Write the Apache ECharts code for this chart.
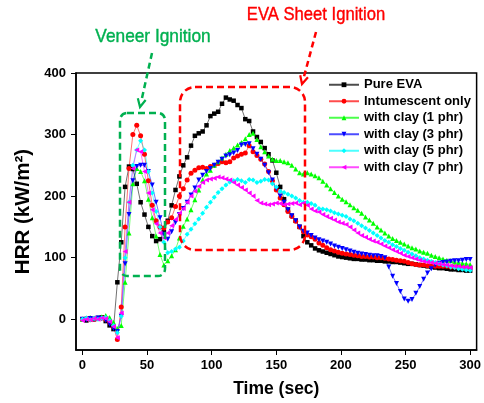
<!DOCTYPE html>
<html><head><meta charset="utf-8">
<script src="https://cdn.jsdelivr.net/npm/echarts@6/dist/echarts.min.js"></script>
<style>html,body{margin:0;padding:0;background:#fff}#c{width:484px;height:403px}</style>
</head><body><div id="c"></div>
<script>
// time grid (sec)
const timeSec = [0,3,6,9,12,15,18,21,24,27,30,33,36,39,42,45,48,51,54,57,60,63,66,69,72,75,78,81,84,87,90,93,96,99,102,105,108,111,114,117,120,123,126,129,132,135,138,141,144,147,150,153,156,159,162,165,168,171,174,177,180,183,186,189,192,195,198,201,204,207,210,213,216,219,222,225,228,231,234,237,240,243,246,249,252,255,258,261,264,267,270,273,276,279,282,285,288,291,294,297,300];

const seriesNames = ["Pure EVA","Intumescent only","with clay (1 phr)","with clay (3 phr)","with clay (5 phr)","with clay (7 phr)"];

const pureEVA = [0,-2,1,0,2,3,-3,-10,-16,60,125,215,248,244,220,190,170,150,135,127,130,142,160,185,210,232,250,263,282,298,302,305,315,330,334,337,350,360,357,355,348,343,325,322,305,296,288,278,268,258,238,215,195,178,168,160,150,135,125,120,115,112,110,108,106,104,102,101,100,99,98,98,97,97,96,96,95,95,94,94,93,93,92,91,90,90,89,88,87,86,85,84,83,83,82,81,81,80,80,79,79];

const intumescent = [0,1,-1,0,1,2,0,-5,-12,-33,20,150,245,300,315,298,268,225,185,160,150,148,158,165,183,200,212,226,237,242,246,247,245,248,250,253,256,254,256,262,265,268,270,282,272,266,260,252,240,225,210,197,186,175,167,159,150,142,137,134,130,124,120,116,113,111,109,107,106,105,104,103,102,102,101,101,100,100,99,98,97,96,95,94,92,90,89,88,88,87,87,86,86,86,86,85,85,85,85,84,84];

const clay1 = [0,2,3,2,3,4,6,3,-5,-15,-10,60,140,220,245,240,225,195,165,135,105,88,95,103,113,132,151,163,178,194,210,226,236,242,250,256,262,268,274,278,283,287,293,300,302,292,280,272,265,260,258,258,256,254,250,244,238,236,238,236,233,230,224,218,212,206,200,195,191,186,181,177,172,166,161,156,150,145,140,135,131,128,125,122,119,116,114,111,109,107,104,102,100,98,96,95,93,92,91,90,89];

const clay3 = [0,-1,1,0,2,1,-2,-8,-15,-20,5,90,170,225,248,250,250,240,218,190,165,138,130,142,157,170,180,190,202,213,226,234,240,245,250,255,260,265,267,270,274,283,284,285,277,268,260,250,238,226,212,200,190,178,168,160,150,143,140,136,132,129,127,125,122,119,117,115,113,111,109,107,106,105,104,103,103,102,100,85,70,58,45,33,29,32,42,53,65,75,82,88,91,92,93,94,95,95,96,97,97];

const clay5 = [0,2,-1,1,0,2,3,-2,-10,-22,5,100,190,250,275,290,275,240,205,175,150,125,108,110,114,117,127,138,146,155,163,172,182,190,198,206,212,218,223,225,227,225,222,227,226,222,224,227,226,220,215,208,206,203,200,197,193,190,190,188,185,180,179,178,176,173,171,169,167,163,160,156,152,148,144,140,136,132,128,125,121,118,115,112,109,106,103,100,98,96,94,92,90,88,87,85,84,82,81,80,79];

const clay7 = [-2,0,-1,1,0,2,1,-4,-12,-30,10,110,190,245,275,272,240,205,178,155,140,132,140,152,162,172,180,190,200,208,216,222,226,228,229,231,230,228,226,222,218,214,210,205,200,193,189,187,186,187,189,188,186,187,188,189,186,189,185,179,176,174,170,167,164,161,158,156,154,150,145,140,136,133,130,127,125,122,119,116,113,110,107,104,102,100,98,96,94,93,92,91,90,89,88,87,86,86,85,85,84];

const xTicks = [0,50,100,150,200,250,300];
const yTicks = [0,100,200,300,400];

const colors = ['#000000','#ff0000','#00ff00','#0000ff','#00ffff','#ff00ff'];
const symbols = ['rect','circle','triangle','triangle','diamond','triangle'];
const rotations = [0,0,0,180,0,90];
const allValues = [pureEVA,intumescent,clay1,clay3,clay5,clay7];

const chart = echarts.init(document.getElementById('c'));
const series = allValues.map((vals,i)=>({
  name: seriesNames[i],
  type: 'line',
  data: timeSec.map((t,k)=>[t, vals[k]]),
  symbol: symbols[i],
  symbolRotate: rotations[i],
  symbolSize: i===0?4.5:5,
  showSymbol: true,
  lineStyle: {color: colors[i], width: 0.8, opacity: 0.7},
  itemStyle: {color: colors[i]},
  emphasis: {disabled: true},
  animation: false,
  z: 2
}));

const axisFont = {fontFamily: 'Liberation Sans, Arial, sans-serif', fontWeight: 'bold', fontSize: 13, color: '#000'};

chart.setOption({
  animation: false,
  grid: {left: 76, right: 7, top: 73, bottom: 51, show: true, borderColor: '#000', borderWidth: 1.5, backgroundColor: 'transparent'},
  xAxis: {
    type: 'value', min: -5, max: 305,
    name: 'Time (sec)', nameLocation: 'middle', nameGap: 30,
    nameTextStyle: {fontFamily: 'Liberation Sans, Arial, sans-serif', fontWeight: 'bold', fontSize: 17.5, color: '#000'},
    axisLine: {show: true, onZero: false, lineStyle: {color: '#000', width: 1.5}},
    axisTick: {show: true, length: 5, customValues: xTicks, lineStyle: {color: '#000', width: 1}},
    axisLabel: Object.assign({margin: 9, customValues: xTicks}, axisFont),
    splitLine: {show: false}
  },
  yAxis: {
    type: 'value', min: -50, max: 400,
    name: 'HRR (kW/m²)', nameLocation: 'middle', nameGap: 33, nameRotate: 90,
    nameTextStyle: {fontFamily: 'Liberation Sans, Arial, sans-serif', fontWeight: 'bold', fontSize: 20.5, color: '#000'},
    axisLine: {show: true, onZero: false, lineStyle: {color: '#000', width: 1.5}},
    axisTick: {show: true, length: 5, customValues: yTicks, lineStyle: {color: '#000', width: 1}},
    axisLabel: Object.assign({margin: 10, customValues: yTicks}, axisFont),
    splitLine: {show: false}
  },
  legend: {
    orient: 'vertical', left: 323, top: 73,
    itemWidth: 30, itemHeight: 6, itemGap: 3,
    textStyle: {fontFamily: 'Liberation Sans, Arial, sans-serif', fontWeight: 'bold', fontSize: 13, color: '#000', lineHeight: 13.5},
    data: seriesNames
  },
  series: series
});

// annotations (decorative)
function arrow(x1,y1,x2,y2,color){
  const dx=x2-x1, dy=y2-y1, L=Math.hypot(dx,dy), ux=dx/L, uy=dy/L;
  const hl=8, hw=4;
  const bx=x2-ux*hl, by=y2-uy*hl;
  return [
    {type:'line', shape:{x1,y1,x2:bx,y2:by}, style:{stroke:color, lineWidth:2.5, lineDash:[6,4]}, z:10},
    {type:'polyline', shape:{points:[[bx-uy*hw, by+ux*hw],[x2,y2],[bx+uy*hw, by-ux*hw]]}, style:{stroke:color, fill:null, lineWidth:2.2}, z:10}
  ];
}
const green='#00b050', red='#ff0000';
const annFont = 'Liberation Sans, Arial, sans-serif';
chart.setOption({graphic: [
  {type:'rect', shape:{x:120, y:113, width:45, height:163, r:7}, style:{stroke:green, fill:null, lineWidth:2.5, lineDash:[7,4]}, z:10},
  {type:'rect', shape:{x:180, y:87, width:125, height:163, r:15}, style:{stroke:red, fill:null, lineWidth:2.5, lineDash:[7,4]}, z:10},
  ...arrow(152,53,140,107,green),
  ...arrow(316,32,302,84,red),
  {type:'text', x:153, y:37, scaleX:0.91, style:{text:'Veneer Ignition', fill:green, font:'19px '+annFont, align:'center', verticalAlign:'middle', stroke:green, lineWidth:0.4}, z:10},
  {type:'text', x:316, y:15, scaleX:0.875, style:{text:'EVA Sheet Ignition', fill:red, font:'19px '+annFont, align:'center', verticalAlign:'middle', stroke:red, lineWidth:0.4}, z:10}
]});
</script></body></html>
